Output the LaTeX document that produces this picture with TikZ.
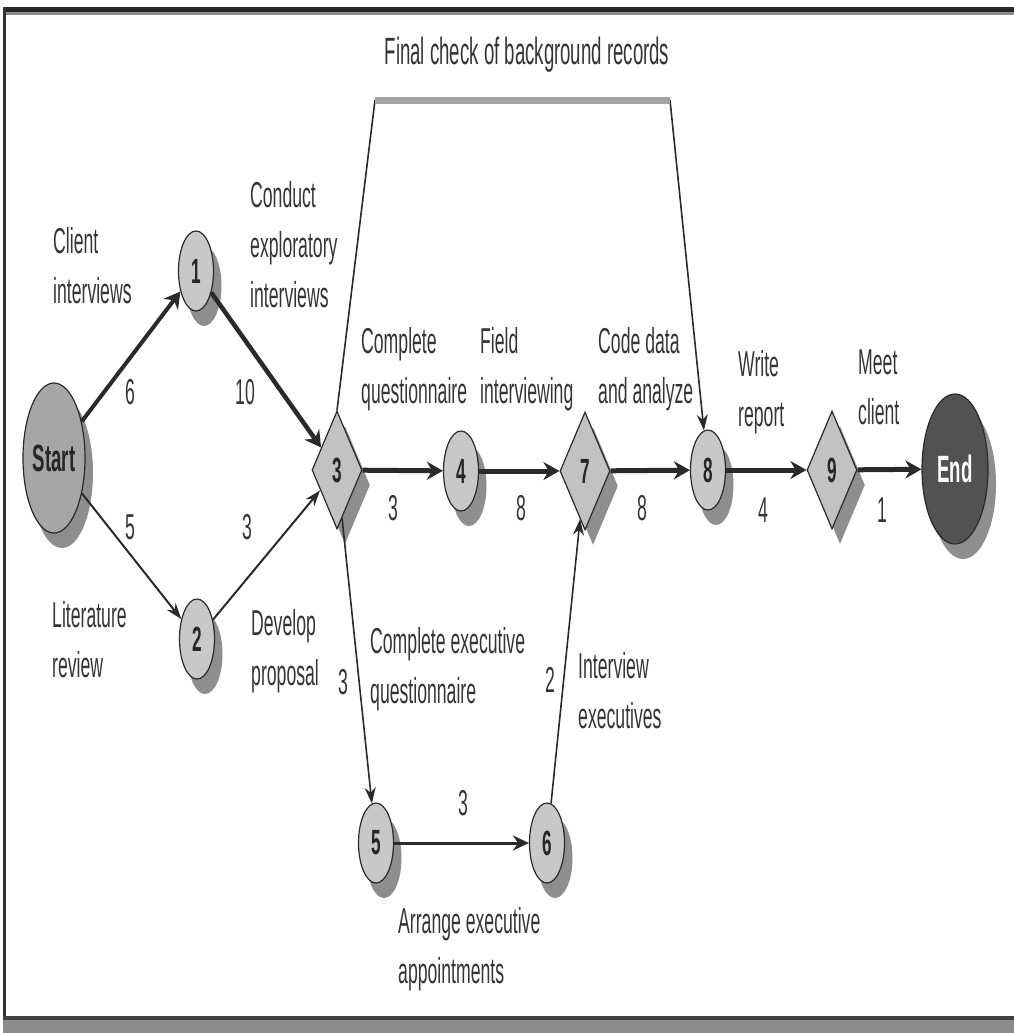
\documentclass[tikz,border=0pt]{standalone}
\usepackage{fontspec}
\setmainfont{Liberation Sans}[FakeStretch=0.49]
\usetikzlibrary{shapes.geometric,arrows.meta,shadows}
\definecolor{txt}{HTML}{353535}
\definecolor{nodefill}{HTML}{C8C8C8}
\definecolor{diafill}{HTML}{C2C2C2}
\definecolor{shadowc}{HTML}{8E8E8E}
\definecolor{edgec}{HTML}{2A2A2A}
\definecolor{barc}{HTML}{A4A4A4}
\begin{document}
\begin{tikzpicture}[x=1pt,y=-1pt,
  lbl/.style={font=\fontsize{36}{50}\selectfont, text=txt, align=left, anchor=north west, inner sep=0pt},
  num/.style={font=\fontsize{36}{38}\selectfont, text=txt, inner sep=0pt},
  shad/.style={drop shadow={shadow xshift=8pt, shadow yshift=-15pt, fill=shadowc, opacity=1}},
  circ/.style={ellipse, draw=edgec, line width=1.2pt, fill=nodefill, minimum width=35pt, minimum height=80pt, inner sep=0pt, font=\bfseries\fontsize{35}{36}\selectfont, text=black!85, shad},
  dia/.style={diamond, draw=edgec, line width=1.2pt, fill=diafill, minimum width=50pt, minimum height=118pt, inner sep=0pt, font=\bfseries\fontsize{35}{36}\selectfont, text=black!85, shad},
  heavy/.style={draw=edgec, line width=5pt, -{Stealth[length=16pt,width=18pt]}},
  medium/.style={draw=edgec, line width=3pt, -{Stealth[length=16pt,width=15pt]}},
  light/.style={draw=edgec, line width=1.6pt, -{Stealth[length=16pt,width=11pt]}},
  plain/.style={draw=edgec, line width=1.6pt},
]
\useasboundingbox (0,0) rectangle (1014,1033);
% frame
\fill[black!85] (4,7) rectangle (1014,12);
\fill[black!45] (4,12) rectangle (1014,15);
\fill[black!80] (3,7) rectangle (6,1020);
\fill[black!75] (3,1016) rectangle (1014,1020);
\fill[black!45] (3,1020) rectangle (1014,1033);

% nodes
\node[ellipse, draw=edgec, line width=1.2pt, fill=black!35, minimum width=62pt, minimum height=150pt, inner sep=0pt, shad, font=\bfseries\fontsize{38}{40}\selectfont, text=black!85] (start) at (54,458) {Start};
\node[circ] (n1) at (196,271) {1};
\node[circ] (n2) at (197,639) {2};
\node[dia] (n3) at (337,470) {3};
\node[circ] (n4) at (461,471) {4};
\node[dia] (n7) at (585,471) {7};
\node[circ] (n8) at (708,470) {8};
\node[dia] (n9) at (832,470) {9};
\node[ellipse, draw=edgec, line width=1.2pt, fill=black!68, minimum width=66pt, minimum height=150pt, inner sep=0pt, shad, font=\bfseries\fontsize{38}{40}\selectfont, text=white] (end) at (955,469) {End};
\node[circ] (n5) at (376,843) {5};
\node[circ] (n6) at (547,843) {6};

% connectors
\draw[heavy, line width=4pt] (start) -- (n1);
\draw[heavy, line width=4.5pt] (n1) -- (n3);
\draw[light, line width=2pt] (start) -- (n2);
\draw[light, line width=2pt] (n2) -- (n3);
\draw[heavy] (n3) -- (n4);
\draw[heavy] (n4) -- (n7);
\draw[heavy] (n7) -- (n8);
\draw[heavy] (n8) -- (n9);
\draw[heavy] (n9) -- (end);
\draw[light] (n3) -- (n5);
\draw[medium] (n5) -- (n6);
\draw[light] (n6) -- (n7);
\coordinate (fcL) at (375,100);
\coordinate (fcR) at (670,100);
\draw[plain] (n3.north) -- (fcL);
\draw[light] (fcR) -- (n8);
\draw[barc, line width=7pt] (fcL) -- (fcR);

% labels
\node[lbl, anchor=base, font=\fontsize{38}{50}\selectfont] (tfc) at (527,65) {Final check of background records};
\node[lbl] (tci) at (53,227) {Client\\interviews};
\node[lbl] (tce) at (250,181) {Conduct\\exploratory\\interviews};
\node[lbl] (tlr) at (52,601) {Literature\\review};
\node[lbl] (tdp) at (251,609) {Develop\\proposal};
\node[lbl] (tcq) at (361,327) {Complete\\questionnaire};
\node[lbl] (tfi) at (480,327) {Field\\interviewing};
\node[lbl] (tcd) at (598,327) {Code data\\and analyze};
\node[lbl] (twr) at (738,350) {Write\\report};
\node[lbl] (tmc) at (858,350) {Meet\\client};
\node[lbl] (tceq) at (370,627) {Complete executive\\questionnaire};
\node[lbl] (tie) at (578,652) {Interview\\executives};
\node[lbl] (tae) at (398,907) {Arrange executive\\appointments};

% durations
\node[num] (d1) at (130,392) {6};
\node[num] (d2) at (245,392) {10};
\node[num] (d3) at (130,527) {5};
\node[num] (d4) at (247,527) {3};
\node[num] (d5) at (393,508) {3};
\node[num] (d6) at (521,508) {8};
\node[num] (d7) at (642,508) {8};
\node[num] (d8) at (763,510) {4};
\node[num] (d9) at (882,510) {1};
\node[num] (d10) at (343,682) {3};
\node[num] (d11) at (550,680) {2};
\node[num] (d12) at (463,803) {3};
\end{tikzpicture}
\end{document}
